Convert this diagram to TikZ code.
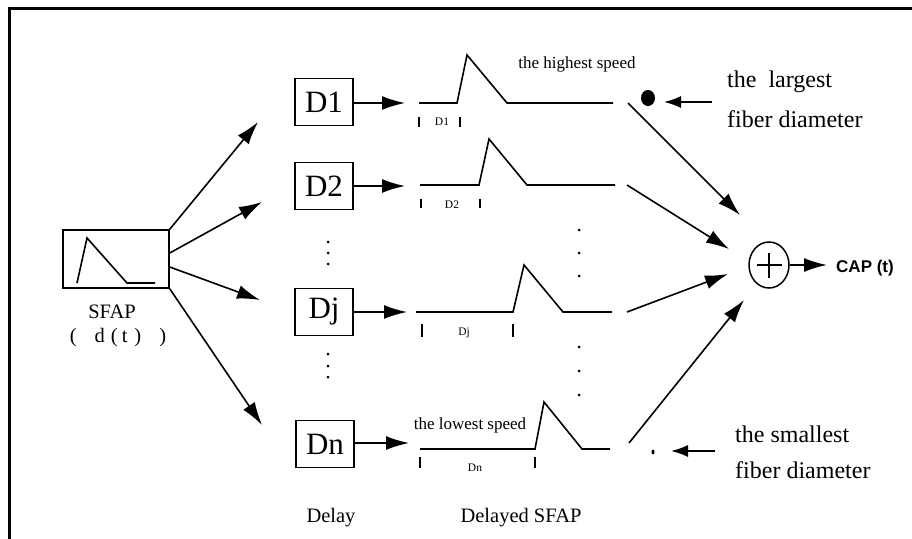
\documentclass[tikz,border=0pt]{standalone}
\usepackage{fontspec}
\setmainfont{Liberation Serif}
\newfontfamily\capfont{Liberation Sans}
\usetikzlibrary{arrows.meta,shapes.geometric}

\begin{document}
\begin{tikzpicture}[x=1pt,y=-1pt,
  wire/.style={line width=1.6pt,line join=miter},
  conn/.style={line width=1.6pt,-{Latex[length=23pt,width=14pt]}},
  shortconn/.style={line width=1.6pt,-{Latex[length=17pt,width=12pt]}},
  tick/.style={line width=2pt},
  delaybox/.style={draw,line width=1.5pt,minimum width=58pt,minimum height=47pt,
    inner sep=0pt,font=\fontsize{31}{31}\selectfont},
  lbl/.style={inner sep=0pt,anchor=base},
  big/.style={lbl,anchor=base west,font=\fontsize{24}{24}\selectfont},
  mid/.style={lbl,font=\fontsize{20.5}{20.5}\selectfont},
  note/.style={lbl,font=\fontsize{17}{17}\selectfont},
  tiny/.style={lbl,font=\fontsize{11.5}{11.5}\selectfont},
  vdot/.style={fill,circle,inner sep=0pt,minimum size=3pt}
]
\useasboundingbox (0,0) rectangle (912,538);

% outer frame (only top and left edges fall inside the page)
\draw[line width=3pt] (9,560) -- (9,8) -- (930,8);

% single fibre action potential
\node[draw,line width=1.5pt,minimum width=106pt,minimum height=58pt,inner sep=0pt] (src) at (116,259) {};
\draw[wire] (77,283) -- (87,238) -- (127,283) -- (155,283);
\node[mid] (sfap) at (112,318) {SFAP};
\node[mid] (dt) at (118,342) {(\hspace{18pt}d\hspace{6pt}(\hspace{4pt}t\hspace{7pt})\hspace{18pt})};

% fan-out to the delay lines
\coordinate (f1) at (258,122);
\coordinate (f2) at (262,202);
\coordinate (f3) at (260,300);
\coordinate (f4) at (262,425);
\draw[conn] (src.north east) -- (f1);
\draw[conn] ([yshift=6pt]src.east) -- (f2);
\draw[conn] ([yshift=-8pt]src.east) -- (f3);
\draw[conn] (src.south east) -- (f4);

% delay blocks
\node[delaybox] (d1) at (324,102) {D1};
\node[delaybox] (d2) at (324,186) {D2};
\node[delaybox] (dj) at (324,312) {Dj};
\node[delaybox] (dn) at (325,444) {Dn};

\coordinate (s1) at (405,103);
\coordinate (s2) at (405,186);
\coordinate (sj) at (407,312);
\coordinate (sn) at (409,443);
\draw[conn] (d1.east |- s1) -- (s1);
\draw[conn] (d2.east |- s2) -- (s2);
\draw[conn] (dj.east |- sj) -- (sj);
\draw[conn] (dn.east |- sn) -- (sn);

% delayed waveforms
\draw[wire] (419,103) -- (457,103) -- (467,55) -- (507,103) -- (613,103);
\draw[wire] (420,185) -- (479,185) -- (489,139) -- (527,185) -- (615,185);
\draw[wire] (416,312) -- (513,312) -- (524,265) -- (563,312) -- (612,312);
\draw[wire] (420,449) -- (535,449) -- (544,402) -- (582,449) -- (610,449);

% delay interval marks
\draw[tick] (419,117) -- (419,127) (460,117) -- (460,127);
\draw[tick] (421,199) -- (421,208) (480,199) -- (480,208);
\draw[tick] (422,324) -- (422,337) (513,324) -- (513,337);
\draw[tick] (420,457) -- (420,468) (535,457) -- (535,468);
\node[tiny] (l1) at (442,125) {D1};
\node[tiny] (l2) at (452,208) {D2};
\node[tiny] (lj) at (464,335) {Dj};
\node[tiny] (ln) at (475,471) {Dn};

\node[note] (hs) at (577,68) {the highest speed};
\node[note] (ls) at (470,429) {the lowest speed};

% vertical ellipses
\foreach \y in {242,253,264,354,366,377} \node[vdot] at (328,\y) {};
\foreach \y in {230,253,276,347,371,395} \node[vdot] at (579,\y) {};

% summation
\node[draw,ellipse,line width=1.5pt,minimum width=40pt,minimum height=46pt,inner sep=0pt] (sum) at (769,265) {};
\draw[line width=1.6pt] (757,265) -- (782,265) (769,253) -- (769,278);

\coordinate (a1s) at (628,103);
\coordinate (a2s) at (627,185);
\coordinate (ajs) at (627,312);
\coordinate (ans) at (629,443);
\coordinate (a1) at (740,215);
\coordinate (a2) at (729,249);
\coordinate (aj) at (728,274);
\coordinate (an) at (744,300);
\draw[conn] (a1s) -- (a1);
\draw[conn] (a2s) -- (a2);
\draw[conn] (ajs) -- (aj);
\draw[conn] (ans) -- (an);

\coordinate (out) at (827,265);
\draw[conn] (sum.east) -- (out);
\node[lbl,anchor=base west,font=\capfont\bfseries\fontsize{17}{17}\selectfont] (cap) at (836,272) {CAP (t)};

% fibre diameter markers
\node[fill,ellipse,inner sep=0pt,minimum width=14pt,minimum height=16pt] (bigdot) at (648,98) {};
\coordinate (bigtail) at (712,102);
\coordinate (bigtip) at (664,102);
\draw[shortconn] (bigtail) -- (bigtip);
\node[big] (lg1) at (727,87) {the\ \ largest};
\node[big] (lg2) at (727,127) {fiber diameter};

\node[fill,ellipse,inner sep=0pt,minimum width=3pt,minimum height=5pt] (smalldot) at (653,452) {};
\coordinate (smtail) at (715,451);
\coordinate (smtip) at (671,451);
\draw[shortconn] (smtail) -- (smtip);
\node[big] (sm1) at (735,442) {the smallest};
\node[big] (sm2) at (735,478) {fiber diameter};

% column captions
\node[mid] (cd) at (331,522) {Delay};
\node[mid] (cs) at (521,522) {Delayed SFAP};
\end{tikzpicture}
\end{document}
